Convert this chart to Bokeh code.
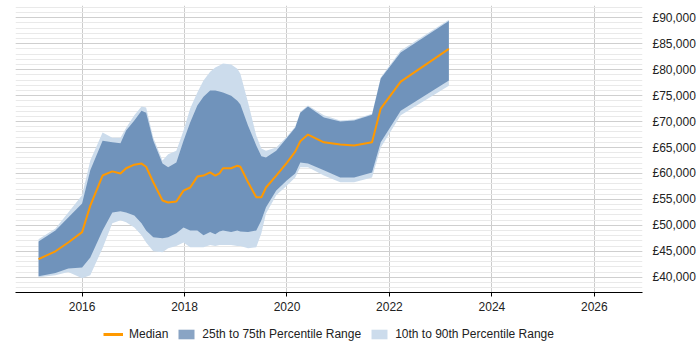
from bokeh.plotting import figure
from bokeh.layouts import column
from bokeh.models import (Range1d, FixedTicker, CustomJSTickFormatter, Legend,
                          LegendItem, ColumnDataSource)
from bokeh.embed import file_html
from bokeh.resources import INLINE

# Rolling salary percentiles (GBP) by date, as decimal years
years = [2015.15, 2015.48, 2015.73, 2016.00, 2016.16, 2016.40, 2016.59, 2016.75,
         2016.86, 2017.02, 2017.16, 2017.25, 2017.39, 2017.57, 2017.68, 2017.84,
         2017.98, 2018.11, 2018.25, 2018.37, 2018.50, 2018.60, 2018.68, 2018.75,
         2018.91, 2019.03, 2019.09, 2019.24, 2019.40, 2019.50, 2019.59, 2019.79,
         2020.00, 2020.16, 2020.26, 2020.41, 2020.72, 2021.04, 2021.31, 2021.66,
         2021.83, 2022.22, 2023.16]

median = [43500, 45000, 46700, 48700, 53800, 59600, 60400, 60000,
          61000, 61700, 61900, 61300, 58300, 54800, 54400, 54600,
          56700, 57300, 59400, 59600, 60200, 59600, 60000, 61000,
          61000, 61500, 61300, 58300, 55400, 55400, 57300, 59600,
          62100, 64200, 66200, 67500, 66000, 65600, 65400, 66000,
          72500, 77700, 84000]

p75 = [46900, 49000, 51500, 54200, 60600, 66300, 66000, 65800,
       68300, 70200, 72100, 71700, 66300, 61900, 61200, 62100,
       66300, 69800, 73100, 74800, 76000, 76000, 75800, 75600,
       75000, 74000, 73300, 69200, 65400, 63300, 63100, 64400,
       66900, 68800, 71700, 72900, 70800, 70000, 70200, 71300,
       78300, 83300, 89400]

p90 = [47300, 49400, 52500, 55800, 62500, 67900, 66900, 66900,
       68800, 71200, 72900, 72700, 66900, 62500, 63700, 64400,
       68300, 72500, 75600, 77900, 79600, 80400, 80800, 81200,
       81000, 80200, 79200, 73700, 67300, 64800, 64400, 65000,
       67100, 69000, 71900, 73100, 71200, 70200, 70400, 71500,
       78500, 83700, 89600]

p25 = [40200, 40800, 41700, 41900, 43800, 49000, 52500, 52700,
       52500, 51900, 50400, 49000, 47700, 47500, 47700, 48500,
       49600, 49000, 49000, 48100, 48700, 48300, 48800, 49000,
       48700, 49000, 48800, 48700, 49000, 51000, 53500, 56700,
       58700, 60000, 62100, 61900, 60600, 59200, 59200, 60200,
       66000, 72100, 77900]

p10 = [40000, 40400, 41000, 39800, 40400, 45600, 50400, 51000,
       50600, 49600, 48100, 46700, 45000, 44800, 45600, 46000,
       46700, 45800, 45800, 45800, 46200, 46000, 46200, 46200,
       46200, 46000, 46000, 45600, 45800, 48500, 52300, 55800,
       57700, 59200, 61200, 61200, 59600, 58300, 58300, 59200,
       65000, 71200, 76900]

x_ticks = [2016, 2018, 2020, 2022, 2024, 2026]
y_ticks = list(range(40000, 90001, 5000))
y_minor = list(range(37000, 93001, 1000))

src = ColumnDataSource(dict(x=years, med=median, p10=p10, p25=p25, p75=p75, p90=p90))

FONT = "Liberation Sans"
TXT = "#222222"
MED_COLOR = "#FF9900"
IQR_COLOR = "#144A8A"
IQR_ALPHA = 0.5
OUTER_COLOR = "#CCDCEC"

p = figure(width=700, height=318, output_backend="svg",
           toolbar_location=None, y_axis_location="right",
           x_range=Range1d(2014.70, 2026.94), y_range=Range1d(37060, 92370),
           min_border_left=15, min_border_right=58, min_border_top=5,
           min_border_bottom=26)
p.outline_line_color = None
p.background_fill_color = "white"

p.varea(x="x", y1="p10", y2="p90", source=src, fill_color=OUTER_COLOR)
p.varea(x="x", y1="p25", y2="p75", source=src, fill_color=IQR_COLOR,
        fill_alpha=IQR_ALPHA)
p.line(x="x", y="med", source=src, line_color=MED_COLOR, line_width=2)

# x axis
p.xaxis.ticker = FixedTicker(ticks=x_ticks)
p.xaxis.axis_line_color = "black"
p.xaxis.axis_line_width = 1
p.xaxis.major_tick_in = 0
p.xaxis.major_tick_out = 4
p.xaxis.major_tick_line_color = "black"
p.xaxis.minor_tick_line_color = None
p.xaxis.minor_tick_out = 0
p.xaxis.major_label_standoff = 5
p.xaxis.major_label_text_font = FONT
p.xaxis.major_label_text_font_size = "12px"
p.xaxis.major_label_text_color = TXT

# y axis on the right
p.yaxis.ticker = FixedTicker(ticks=y_ticks, minor_ticks=y_minor)
p.yaxis.formatter = CustomJSTickFormatter(
    code="return '\u00a3' + Math.round(tick).toString().replace(/\\B(?=(\\d{3})+(?!\\d))/g, ',');")
p.yaxis.axis_line_color = None
p.yaxis.major_tick_line_color = None
p.yaxis.minor_tick_line_color = None
p.yaxis.major_tick_out = 0
p.yaxis.major_tick_in = 0
p.yaxis.minor_tick_out = 0
p.yaxis.minor_tick_in = 0
p.yaxis.major_label_standoff = 10
p.yaxis.major_label_text_font = FONT
p.yaxis.major_label_text_font_size = "12px"
p.yaxis.major_label_text_color = TXT

# grids
p.xgrid.grid_line_color = "#cccccc"
p.ygrid.grid_line_color = "#cfcfcf"
p.ygrid.minor_grid_line_color = "#e9e9e9"

# legend strip under the chart; key glyphs sit outside its visible range
leg = figure(width=700, height=32, output_backend="svg", toolbar_location=None,
             x_range=Range1d(0, 1), y_range=Range1d(0, 1),
             min_border=0, outline_line_color=None)
leg.axis.visible = False
leg.grid.visible = False
k_med = leg.line(x=[-5, -4], y=[-5, -5], line_color=MED_COLOR, line_width=3)
k_iqr = leg.varea(x=[-5, -4], y1=[-5, -5], y2=[-4, -4], fill_color=IQR_COLOR,
                  fill_alpha=IQR_ALPHA)
k_out = leg.varea(x=[-5, -4], y1=[-5, -5], y2=[-4, -4], fill_color=OUTER_COLOR)

legend = Legend(items=[
    LegendItem(label="Median", renderers=[k_med]),
    LegendItem(label="25th to 75th Percentile Range", renderers=[k_iqr]),
    LegendItem(label="10th to 90th Percentile Range", renderers=[k_out]),
], orientation="horizontal", location=(88, 9),
    glyph_width=20, glyph_height=12, label_standoff=6, spacing=8,
    padding=0, margin=0, border_line_color=None, background_fill_alpha=0,
    label_text_font=FONT, label_text_font_size="12px", label_text_color=TXT,
    label_height=14)
leg.add_layout(legend, "center")

open("out.html", "w").write(file_html(column(p, leg, spacing=0), INLINE))
